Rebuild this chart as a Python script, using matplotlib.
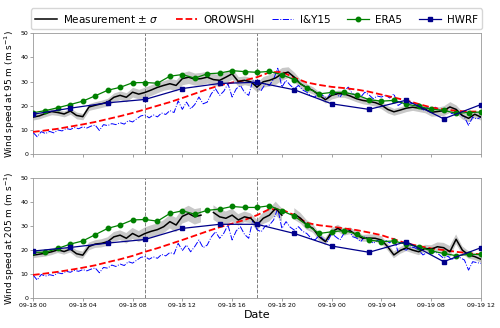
import numpy as np
import pandas as pd
import matplotlib
matplotlib.use('Agg')
import matplotlib.pyplot as plt
import matplotlib.dates as mdates

start = pd.Timestamp('2018-09-18 00:00')
t_meas = pd.date_range(start, periods=73, freq='30min')
t_iy = pd.date_range(start, periods=109, freq='20min')
t_hour = pd.date_range(start, periods=37, freq='1h')
t_3h = pd.date_range(start, periods=13, freq='3h')

nan = np.nan

# ---- 95 m ----
meas_95 = [15.3, 15.8, 16.8, 17.6, 17.2, 16.6, 17.8, 16.0, 15.5, 19.5,
           20.2, 20.8, 21.5, 23.5, 24.3, 23.5, 25.6, 24.8, 25.5, 26.5,
           27.6, 28.4, 29.1, 28.4, 31.2, 31.8, 31.0, 31.2, 31.8, 30.8,
           30.5, 31.8, 33.2, 30.0, 30.5, 29.9, 27.7, 29.9, 30.5, 31.5,
           33.2, 33.9, 31.8, 29.0, 27.5, 26.3, 24.3, 22.5, 24.3, 25.0,
           24.9, 24.0, 22.9, 22.2, 21.8, 21.3, 20.3, 18.5, 17.5, 18.2,
           19.0, 19.4, 19.0, 18.6, 17.3, 17.6, 18.0, 19.5, 18.5, 16.0,
           14.8, 16.5, 15.3]
sigma_95 = [1.2, 1.2, 1.3, 1.3, 1.2, 1.2, 1.3, 1.4, 1.3, 1.4,
            1.5, 1.5, 1.6, 1.8, 1.8, 1.9, 2.0, 2.0, 2.2, 2.2,
            2.2, 2.0, 2.2, 2.3, 2.5, 2.6, 2.5, 2.6, 2.4, 2.5,
            2.4, 2.3, 2.2, 2.0, 1.8, 1.8, 2.0, 2.2, 2.4, 2.6,
            2.6, 2.2, 2.0, 1.8, 1.6, 1.5, 1.4, 1.4, 1.5, 1.5,
            1.4, 1.4, 1.3, 1.4, 1.4, 1.5, 1.6, 1.5, 1.4, 1.4,
            1.4, 1.3, 1.4, 1.5, 1.6, 1.8, 2.0, 2.2, 1.8, 1.5,
            1.4, 1.3, 1.3]
iy15_95 = [9.0, 7.2, 9.3, 8.5, 9.4, 8.8, 10.0, 9.6, 10.6, 10.2,
           11.0, 10.5, 11.3, 10.8, 11.6, 12.0, 9.8, 12.2, 11.8, 12.6,
           12.2, 13.0, 12.4, 13.9, 13.3, 14.6, 15.8, 16.2, 15.0, 16.2,
           15.4, 17.0, 16.4, 18.0, 17.2, 22.0, 18.5, 21.5, 18.7, 20.5,
           23.6, 20.8, 21.5, 25.0, 27.0, 24.3, 26.0, 29.1, 23.6, 27.0,
           28.4, 25.5, 24.3, 30.5, 27.5, 26.3, 29.0, 28.4, 31.0, 35.5,
           27.7, 30.5, 28.5, 27.0, 28.4, 26.5, 25.6, 24.0, 23.6, 25.6,
           24.0, 22.9, 26.3, 25.0, 23.6, 26.0, 27.7, 24.9, 24.5, 23.6,
           25.6, 24.5, 22.9, 24.0, 23.6, 24.3, 23.2, 24.9, 20.1, 21.2,
           20.8, 20.8, 21.3, 20.1, 18.0, 19.2, 18.7, 19.4, 18.3, 17.3,
           18.0, 16.7, 18.0, 16.5, 15.3, 11.9, 15.3, 14.5, 15.3]
oro_95 = [9.2, 9.8, 10.5, 11.4, 12.3, 13.3, 14.5, 15.7, 17.0, 18.5,
          20.0, 21.5, 23.2, 25.0, 26.8, 28.4, 29.6, 30.5, 31.8, 33.8,
          34.0, 31.6, 29.6, 28.6, 27.8, 27.3, 26.7, 25.8, 24.6, 23.4,
          22.2, 20.7, 19.3, 18.5, 17.9, 17.6, 17.6]
era5_95 = [17.1, 18.0, 19.2, 20.5, 21.9, 24.1, 26.4, 27.6, 29.5, 29.6,
           29.3, 32.2, 32.9, 31.4, 33.2, 33.5, 34.5, 34.1, 33.8, 34.2,
           32.8, 30.8, 27.4, 24.9, 25.5, 25.5, 24.5, 22.5, 21.9, 22.2,
           20.7, 19.7, 18.6, 18.1, 16.9, 17.2, 17.4]
hwrf_95 = [16.5, 19.0, 21.2, 22.6, 27.1, 29.2, 29.7, 26.6, 20.8, 18.5,
           22.3, 14.6, 20.5]

# ---- 205 m ----
meas_205 = [17.9, 18.3, 18.7, 19.3, 20.1, 19.4, 20.4, 18.5, 17.9, 21.5,
            22.5, 22.8, 23.5, 25.5, 26.2, 24.9, 26.9, 25.6, 26.9, 27.8,
            28.5, 29.7, 31.8, 30.4, 34.0, 35.2, 33.8, 34.5, nan, 35.6,
            33.8, 33.2, 34.5, 32.5, 33.8, 33.2, 30.4, 33.2, 34.5, 37.3,
            34.5, nan, 35.0, 33.2, 30.4, 29.0, 25.5, 23.5, 27.6, 29.0,
            27.5, 28.0, 26.2, 24.9, 25.0, 24.9, 24.2, 21.4, 18.0, 19.8,
            21.0, 20.0, 19.3, 20.7, 20.4, 21.4, 21.0, 19.3, 24.5, 20.0,
            18.0, 17.3, 16.2]
sigma_205 = [1.3, 1.3, 1.4, 1.4, 1.3, 1.3, 1.4, 1.5, 1.5, 1.6,
             1.6, 1.7, 1.8, 2.0, 2.0, 2.2, 2.3, 2.3, 2.5, 2.5,
             2.6, 2.7, 2.8, 3.0, 3.0, 3.2, 3.2, 3.0, 3.0, 3.0,
             3.0, 2.8, 2.6, 2.4, 2.2, 2.0, 2.2, 2.4, 2.6, 2.8,
             2.8, 2.5, 2.4, 2.2, 2.0, 1.8, 1.6, 1.5, 1.5, 1.5,
             1.5, 1.4, 1.4, 1.4, 1.5, 1.5, 1.6, 1.5, 1.4, 1.4,
             1.4, 1.3, 1.4, 1.5, 1.6, 1.8, 2.0, 2.4, 2.0, 1.6,
             1.5, 1.4, 1.4]
iy15_205 = [9.7, 7.6, 9.9, 9.2, 9.8, 9.4, 10.6, 10.2, 11.2, 10.8,
            11.6, 11.2, 11.9, 11.4, 12.1, 12.6, 10.6, 12.8, 12.5, 13.8,
            13.2, 14.2, 13.6, 15.2, 14.6, 15.8, 17.0, 17.3, 16.2, 17.2,
            16.6, 18.2, 17.6, 19.0, 18.4, 22.8, 19.8, 22.1, 19.3, 21.5,
            24.2, 21.0, 22.1, 25.5, 27.6, 24.9, 27.0, 30.4, 24.2, 28.0,
            29.7, 26.5, 24.9, 32.5, 28.5, 27.6, 30.0, 30.4, 32.5, 37.3,
            29.0, 31.8, 29.5, 28.3, 29.7, 27.8, 26.9, 25.0, 24.2, 26.2,
            24.5, 23.5, 26.9, 25.5, 24.2, 27.0, 29.0, 25.6, 25.0, 23.5,
            25.6, 24.6, 22.8, 24.0, 23.5, 24.0, 23.0, 24.9, 19.3, 20.5,
            20.0, 21.4, 21.0, 20.0, 18.0, 19.0, 18.7, 19.3, 18.0, 16.6,
            17.5, 15.9, 18.0, 16.8, 15.9, 11.7, 15.2, 14.8, 14.5]
oro_205 = [9.7, 10.3, 11.0, 11.8, 12.7, 13.7, 15.0, 16.2, 17.6, 19.3,
           20.8, 22.5, 24.2, 26.0, 27.8, 29.5, 31.0, 32.5, 34.5, 37.0,
           36.8, 34.5, 31.3, 30.3, 29.7, 29.0, 28.3, 27.3, 26.2, 24.5,
           22.8, 21.7, 20.7, 20.0, 19.3, 18.7, 18.2]
era5_205 = [19.1, 19.1, 20.7, 22.5, 23.8, 26.4, 29.0, 30.4, 32.5, 32.7,
            32.0, 35.2, 36.3, 34.9, 36.5, 37.0, 38.1, 37.7, 37.7, 38.4,
            36.3, 34.1, 30.4, 26.9, 27.6, 28.1, 26.7, 24.2, 23.5, 23.8,
            22.4, 21.4, 19.7, 18.6, 17.7, 18.2, 18.2]
hwrf_205 = [19.6, 21.1, 22.9, 24.4, 29.0, 30.7, 30.7, 26.9, 21.7, 19.1,
            23.5, 15.2, 21.0]

panels = [
    (meas_95, sigma_95, iy15_95, oro_95, era5_95, hwrf_95,
     'Wind speed at 95 m (m s$^{-1}$)'),
    (meas_205, sigma_205, iy15_205, oro_205, era5_205, hwrf_205,
     'Wind speed at 205 m (m s$^{-1}$)'),
]

fig = plt.figure(figsize=(5, 3.28), dpi=100)
ax1 = fig.add_axes([0.066, 0.530, 0.896, 0.369])
ax2 = fig.add_axes([0.066, 0.0905, 0.896, 0.3675], sharex=ax1)

for ax, (meas, sig, iy, oro, era, hwrf, ylab) in zip([ax1, ax2], panels):
    meas = np.array(meas)
    sig = np.array(sig)
    ax.fill_between(t_meas, meas - sig, meas + sig, color='#c8c8c8',
                    lw=0, zorder=1)
    ax.plot(t_meas, meas, color='black', lw=1.1, zorder=5,
            label='Measurement ± $\\sigma$')
    ax.plot(t_hour, oro, color='red', ls='--', lw=1.3, zorder=4,
            label='OROWSHI')
    ax.plot(t_iy, iy, color='blue', ls='-.', lw=0.7, zorder=3,
            label='I&Y15')
    ax.plot(t_hour, era, color='green', lw=0.9, marker='o', ms=3.2,
            zorder=6, label='ERA5')
    ax.plot(t_3h, hwrf, color='darkblue', lw=0.9, marker='s', ms=3.2,
            zorder=6, label='HWRF')
    for vl in ['2018-09-18 09:00', '2018-09-18 18:00']:
        ax.axvline(pd.Timestamp(vl), color='grey', ls='--', lw=0.7, zorder=2)
    ax.set_ylim(0, 50)
    ax.set_yticks(range(0, 51, 10))
    ax.set_xlim(t_meas[0], t_meas[-1])
    ax.set_ylabel(ylab, fontsize=6.5, labelpad=2)
    ax.tick_params(labelsize=4.5, length=2, width=0.5, color='0.5', pad=1.5)
    for s in ax.spines.values():
        s.set_color('0.6')
        s.set_linewidth(0.6)

ax1.xaxis.set_major_locator(mdates.HourLocator(byhour=range(0, 24, 4)))
ax1.xaxis.set_major_formatter(mdates.DateFormatter('%m-%d %H'))
plt.setp(ax1.get_xticklabels(), visible=False)
ax2.set_xlabel('Date', fontsize=8, labelpad=1)

handles, labels = ax1.get_legend_handles_labels()
fig.legend(handles, labels, loc='upper center', bbox_to_anchor=(0.513, 0.99),
           ncol=5, fontsize=7.5, frameon=True, handlelength=2.1,
           columnspacing=1.6, borderpad=0.4, handletextpad=0.6)

fig.savefig('out.png', dpi=100)
